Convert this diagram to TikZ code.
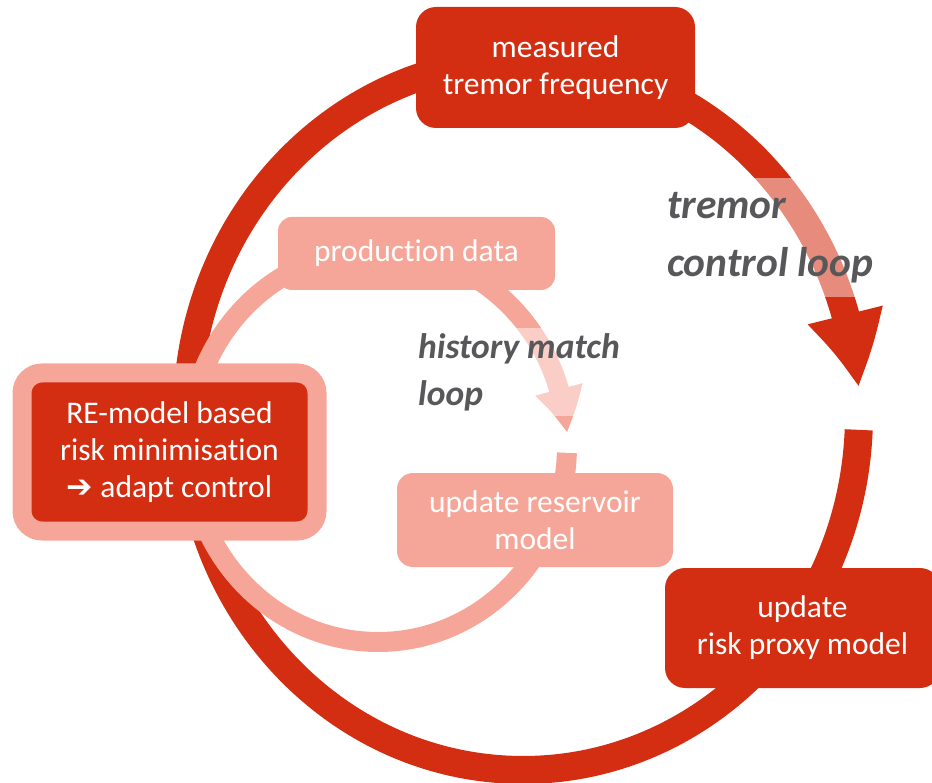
\documentclass[tikz,border=0pt]{standalone}
\usepackage{fontspec}
\setmainfont{Carlito}[Ligatures=NoCommon]
\newfontfamily\arrowfont{DejaVu Sans}
\usepackage{tikz}
\usetikzlibrary{positioning}
\usetikzlibrary{calc}
\usetikzlibrary{arrows.meta}
\usetikzlibrary{bending}
\definecolor{loopred}{RGB}{212,46,18}
\definecolor{looppink}{RGB}{246,166,152}
\definecolor{labelgrey}{RGB}{88,88,90}
\newcommand\boxfont{\fontsize{31.5pt}{37pt}\selectfont}
\newcommand\tremorfont{\fontsize{41.5pt}{58pt}\selectfont\bfseries\itshape}
\newcommand\historyfont{\fontsize{35.5pt}{47pt}\selectfont\bfseries\itshape}
\tikzset{redbox/.style={fill=loopred,text=white,rounded corners=20pt,align=center,font=\boxfont,inner sep=0pt},
pinkbox/.style={fill=looppink,text=white,rounded corners=16pt,align=center,font=\boxfont,inner sep=0pt},
redring/.style={draw=loopred,line width=28pt,-{Triangle[length=75pt,width=71pt,bend]}},
pinkring/.style={draw=looppink,line width=20pt,-{Triangle[length=45pt,width=45pt,bend]}},
looplabel/.style={text=labelgrey,align=left,fill=white,fill opacity=0.45,text opacity=1}}

\begin{document}
\begin{tikzpicture}[x=1pt,y=-1pt]
\useasboundingbox (0,0) rectangle (932,783);
\coordinate (rc) at (523,415);
\coordinate (pc) at (378,446);

% the two loops
\draw[redring] (rc) ++(2.4:336 and 355) arc[start angle=2.4, end angle=355.6, x radius=336, y radius=355];
\draw[pinkring] (pc) ++(2:189 and 196) arc[start angle=2, end angle=356.2, x radius=189, y radius=196];

\node (tremorlbl) at (660,297) [looplabel, anchor=south west, font=\tremorfont, inner xsep=7pt, inner ysep=14pt] {tremor\\control loop};
\node (historylbl) at (412,416) [looplabel, anchor=south west, font=\historyfont, inner xsep=6pt, inner ysep=5pt] {history match\\loop};

% boxes on top
\node (meas) at (555.5,67.5) [redbox, minimum width=279pt, minimum height=121pt] {measured\\tremor frequency};
\node (prod) at (416.5,253.5) [pinkbox, minimum width=277pt, minimum height=73pt, rounded corners=14pt] {production data};
\node (resv) at (535,520) [pinkbox, minimum width=276pt, minimum height=94pt] {update reservoir\\model};
\node (risk) at (802.5,628) [redbox, minimum width=275pt, minimum height=120pt] {update\\risk proxy model};
\node (remodel) at (169.5,452) [redbox, draw=looppink, line width=19pt, minimum width=295pt, minimum height=158pt] {RE-model based\\risk minimisation\\{\arrowfont ➔} adapt control};

\end{tikzpicture}
\end{document}
